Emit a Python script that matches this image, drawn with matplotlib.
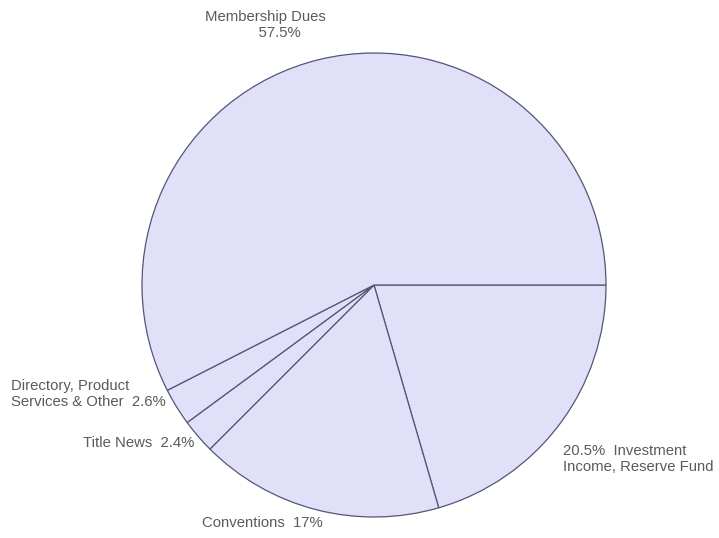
import matplotlib
matplotlib.use('Agg')
import matplotlib.pyplot as plt

# Datos del grafico (porcentajes de ingresos)
nombres = ["Investment\nIncome, Reserve Fund", "Conventions", "Title News",
           "Directory, Product\nServices & Other", "Membership Dues"]
valores = [20.5, 17.0, 2.4, 2.6, 57.5]
pct_txt = ["20.5%", "17%", "2.4%", "2.6%", "57.5%"]

# Textos de etiquetas
etiquetas = [
    pct_txt[0] + "  " + nombres[0],
    nombres[1] + "  " + pct_txt[1],
    nombres[2] + "  " + pct_txt[2],
    nombres[3] + "  " + pct_txt[3],
    nombres[4] + "\n" + " " * 13 + pct_txt[4],
]

# posiciones de las etiquetas (unidades del pie, radio = 1)
pos_etiq = [(0.815, -0.75), (-0.741, -1.026), (-1.254, -0.681),
            (-1.565, -0.47), (-0.728, 1.121)]

plt.rcParams['font.family'] = ['Liberation Sans', 'DejaVu Sans']

fig = plt.figure(figsize=(7.19, 5.38), dpi=100)
ax = fig.add_axes([142 / 719, 21 / 538, 464 / 719, 464 / 538])

ax.pie(valores, startangle=0, counterclock=False,
       colors=['#e0e0f8'] * len(valores),
       wedgeprops=dict(edgecolor='#55557a', linewidth=0.9))

for txt, (x, y) in zip(etiquetas, pos_etiq):
    ax.text(x, y, txt, ha='left', va='center', fontsize=10.7,
            color='#5a5a5a', linespacing=1.2)

ax.set_xlim(-1, 1)
ax.set_ylim(-1, 1)
ax.set_aspect('equal')
ax.axis('off')

plt.savefig('out.png', dpi=100)
plt.close()
